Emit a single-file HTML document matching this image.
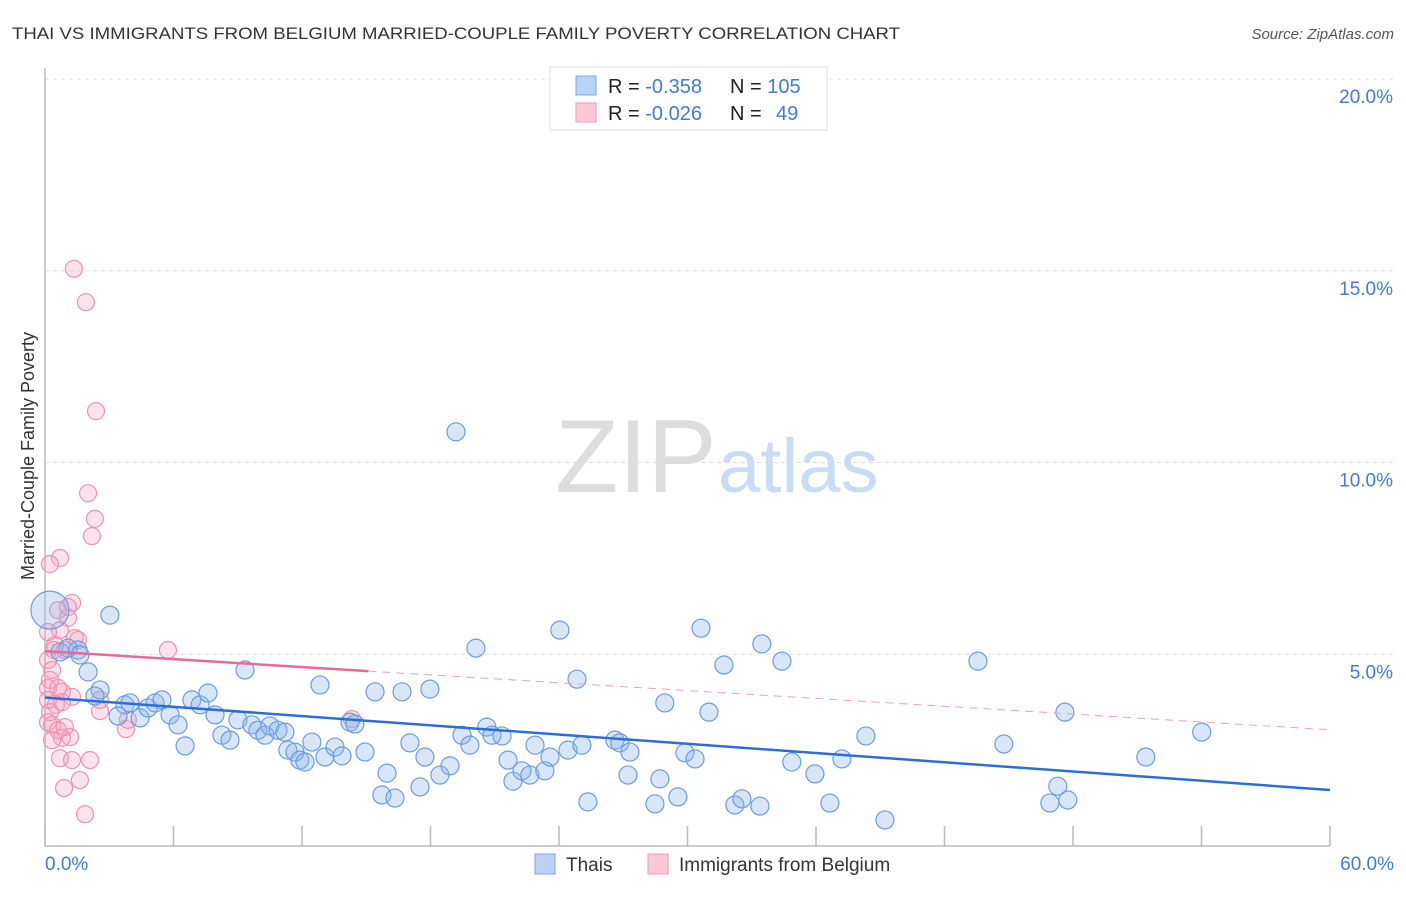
<!DOCTYPE html>
<html><head><meta charset="utf-8">
<style>
body{margin:0;background:#fff;font-family:"Liberation Sans",sans-serif;}
svg text{font-family:"Liberation Sans",sans-serif;}
</style></head>
<body>
<svg id="chart" width="1406" height="892">
<text x="12" y="39" font-size="17" fill="#333" textLength="888" lengthAdjust="spacingAndGlyphs">THAI VS IMMIGRANTS FROM BELGIUM MARRIED-COUPLE FAMILY POVERTY CORRELATION CHART</text>
<text x="1394" y="39" font-size="15" fill="#555" text-anchor="end" font-style="italic">Source: ZipAtlas.com</text>
<text transform="translate(34,456) rotate(-90)" font-size="18" fill="#333" text-anchor="middle">Married-Couple Family Poverty</text>
<g id="grid"></g>
<text x="555" y="492" font-size="104" fill="#ddd" font-family="Liberation Serif">ZIP</text>
<text x="718" y="492" font-size="76" fill="#c9dcf3">atlas</text>
<line x1="45" y1="68" x2="45" y2="846" stroke="#bbb" stroke-width="1.5"/>
<line x1="45" y1="846" x2="1330" y2="846" stroke="#bbb" stroke-width="1.5"/>
<g id="ticks"></g>
<g id="pts"></g>
<g id="lines"></g>
<text x="45" y="870" font-size="19" fill="#3d7dd8">0.0%</text>
<text x="1394" y="870" font-size="19" fill="#3d7dd8" text-anchor="end">60.0%</text>
<g>
<rect x="550" y="67" width="277" height="63" fill="#fff" stroke="#ddd"/>
<rect x="576" y="76" width="20" height="19" fill="#b9d3f5" stroke="#7aa7e6"/>
<rect x="576" y="103" width="20" height="19" fill="#fcc8d8" stroke="#ee9ab6"/>
<text x="608" y="93" font-size="20" fill="#222">R = <tspan fill="#3d7dd8">-0.358</tspan><tspan x="730">N = </tspan><tspan fill="#3d7dd8">105</tspan></text>
<text x="608" y="120" font-size="20" fill="#222">R = <tspan fill="#3d7dd8">-0.026</tspan><tspan x="730">N = </tspan><tspan x="776" fill="#3d7dd8">49</tspan></text>
</g>
<g>
<rect x="535" y="854" width="20" height="20" fill="#b9d3f5" stroke="#7aa7e6"/>
<text x="566" y="871" font-size="19" fill="#333">Thais</text>
<rect x="648" y="854" width="20" height="20" fill="#fcc8d8" stroke="#ee9ab6"/>
<text x="679" y="871" font-size="19" fill="#333">Immigrants from Belgium</text>
</g>
</svg>
<script>
const yTicks=[5,10,15,20];
const xTickVals=[0,6,12,18,24,30,36,42,48,54,60];
const blueX=[0.23,3.03,1.54,1.07,0.70,1.63,2.01,2.57,2.33,3.73,3.97,3.41,4.44,4.81,5.14,5.46,5.84,6.21,6.54,6.86,7.24,7.61,7.94,8.26,8.64,9.01,9.34,9.66,9.94,10.27,10.50,10.88,11.20,11.34,11.67,11.90,12.14,12.46,12.84,13.07,13.54,13.87,14.24,14.47,14.94,15.41,15.73,15.97,16.34,16.67,17.04,17.51,17.74,17.97,18.44,18.91,19.19,19.47,19.84,20.12,20.63,20.87,21.34,21.62,21.85,22.27,22.64,22.88,23.34,23.58,24.04,24.42,24.84,25.07,25.35,26.61,26.84,27.31,27.22,28.48,28.71,28.94,29.55,29.88,30.35,30.63,31.00,31.70,32.21,32.54,33.38,33.47,34.41,34.87,35.95,36.65,37.21,38.33,39.22,43.56,44.77,46.92,47.29,47.62,47.76,51.40,54.01];
const blueY=[6.15,6.02,5.11,5.16,5.06,4.98,4.54,4.07,3.91,3.68,3.73,3.39,3.34,3.60,3.73,3.81,3.42,3.16,2.61,3.81,3.68,3.99,3.42,2.89,2.76,3.29,4.59,3.16,3.02,2.89,3.13,3.02,2.97,2.50,2.45,2.24,2.19,2.71,4.20,2.32,2.58,2.35,3.23,3.18,2.45,4.02,1.33,1.90,1.25,4.02,2.69,1.54,2.32,4.09,1.85,2.09,10.80,2.89,2.63,5.16,3.10,2.89,2.87,2.24,1.69,1.96,1.85,2.63,1.96,2.32,5.63,2.50,4.35,2.63,1.15,2.76,2.69,2.45,1.85,1.10,1.75,3.73,1.28,2.43,2.27,5.68,3.49,4.72,1.07,1.23,1.04,5.27,4.82,2.19,1.88,1.12,2.27,2.87,0.68,4.82,2.66,1.12,1.56,3.49,1.20,2.32,2.97];
const blueR=[20,10,10,10,10,10,10,10,10,10,10,10,10,10,10,10,10,10,10,10,10,10,10,10,10,10,10,10,10,10,10,10,10,10,10,10,10,10,10,10,10,10,10,10,10,10,10,10,10,10,10,10,10,10,10,10,10,10,10,10,10,10,10,10,10,10,10,10,10,10,10,10,10,10,10,10,10,10,10,10,10,10,10,10,10,10,10,10,10,10,10,10,10,10,10,10,10,10,10,10,10,10,10,10,10,10,10];
const pinkX=[1.35,1.91,2.38,2.01,2.33,2.19,0.70,0.23,1.26,1.07,0.61,1.07,0.70,0.14,1.40,1.54,0.47,0.93,0.14,0.33,0.23,0.14,0.61,0.79,1.26,0.79,0.51,0.23,2.57,0.14,0.33,0.93,1.17,0.79,3.78,3.87,5.74,14.33,0.14,2.10,1.26,0.70,1.63,0.89,1.87,0.61,2.57,0.33,0.42];
const pinkY=[15.05,14.18,11.34,9.20,8.53,8.08,7.51,7.35,6.34,6.23,6.15,5.95,5.63,5.58,5.42,5.37,5.24,5.11,4.85,4.59,4.33,4.12,4.12,4.02,3.89,3.75,3.68,3.49,3.52,3.23,3.16,3.10,2.84,2.82,3.05,3.29,5.11,3.31,3.81,2.24,2.24,2.29,1.72,1.51,0.83,3.02,3.81,2.76,5.11];
const blueTrend=[[0,3.87],[60,1.46]];
const pinkTrend=[[0,5.08],[15.1,4.56],[60,3.03]];
const X=v=>45+v/60*1285, Y=v=>846-v*38.35;
const NS='http://www.w3.org/2000/svg';
function mk(tag,attrs,parent){const e=document.createElementNS(NS,tag);for(const k in attrs)e.setAttribute(k,attrs[k]);parent.appendChild(e);return e;}
const grid=document.getElementById('grid');
yTicks.forEach(t=>{
 const l=mk('line',{x1:45,x2:1394,y1:Y(t),y2:Y(t),stroke:'#ddd','stroke-dasharray':'4,4'},grid);
 
 
 const tx=mk('text',{x:1393,y:Y(t)+24,'font-size':19,fill:'#3d7dd8','text-anchor':'end'},grid);
 tx.textContent=t.toFixed(1)+'%';
 
 
});
const ticks=document.getElementById('ticks');
xTickVals.forEach(t=>{
 const l=mk('line',{x1:X(t),x2:X(t),y1:826,y2:846,stroke:'#bbb','stroke-width':1.5},ticks);
 
 
});
const pts=document.getElementById('pts');
pinkX.forEach((v,i)=>{
 const c=mk('circle',{cx:X(v),cy:Y(pinkY[i]),r:8.5,fill:'rgba(244,160,190,0.3)',stroke:'#ee93b2','stroke-width':1.2},pts);
 
 
});
blueX.forEach((v,i)=>{
 const c=mk('circle',{cx:X(v),cy:Y(blueY[i]),r:blueR[i]-1,fill:'rgba(140,180,235,0.33)',stroke:'#6a9de3','stroke-width':1.2},pts);
 
 
});
const lines=document.getElementById('lines');
const bl=mk('line',{x1:X(blueTrend[0][0]),y1:Y(blueTrend[0][1]),x2:X(blueTrend[1][0]),y2:Y(blueTrend[1][1]),stroke:'#2a6fd6','stroke-width':2.5},lines);


const pl=mk('line',{x1:X(pinkTrend[0][0]),y1:Y(pinkTrend[0][1]),x2:X(pinkTrend[1][0]),y2:Y(pinkTrend[1][1]),stroke:'#e8699a','stroke-width':2.5},lines);


const pd=mk('line',{x1:X(pinkTrend[1][0]),y1:Y(pinkTrend[1][1]),x2:X(pinkTrend[2][0]),y2:Y(pinkTrend[2][1]),stroke:'#eea0bb','stroke-width':1,'stroke-dasharray':'8,6'},lines);


</script>
</body></html>
